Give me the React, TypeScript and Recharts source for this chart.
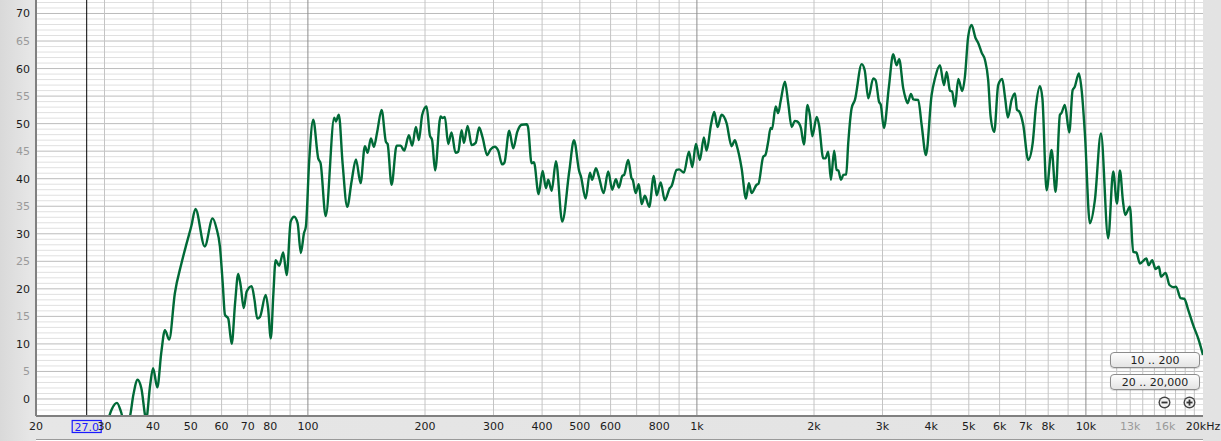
import React from 'react';
import { LineChart, Line, XAxis, YAxis, CartesianGrid, ReferenceLine } from 'recharts';

// Frequency (Hz) of each sample of the measured curve
const FREQS = [
  30.3, 31.3, 32.3, 33.1, 33.9, 34.9, 35.6, 36.5, 37.3, 38.4, 39.3, 40.0, 41.0, 42.0, 42.9, 44.0,
  45.5, 47.3, 48.8, 50.2, 51.4, 54.3, 56.9, 58.2, 59.4, 60.4, 61.2, 62.4, 63.7, 65.0, 66.2, 67.2,
  68.4, 69.6, 71.7, 72.9, 74.1, 75.3, 77.9, 79.0, 80.3, 81.5, 82.6, 84.4, 86.4, 88.2, 90.3, 92.2,
  94.1, 95.9, 97.7, 98.8, 100.8, 103.2, 106.3, 107.8, 111.1, 116.9, 118.0, 120.1, 122.8, 126.2,
  129.5, 132.9, 136.6, 140.1, 142.4, 145.2, 147.8, 150.7, 154.7, 158.7, 160.3, 164.1, 169.1, 173.1,
  176.8, 181.8, 185.4, 189.5, 192.9, 196.7, 201.9, 205.8, 208.6, 212.3, 219.3, 222.0, 225.0, 229.4,
  234.0, 239.6, 243.4, 248.4, 251.8, 257.4, 263.6, 269.9, 275.6, 281.2, 289.0, 294.8, 302.4, 308.4,
  315.8, 320.0, 329.2, 337.2, 345.3, 354.4, 365.0, 368.0, 375.9, 381.1, 391.8, 401.3, 409.2, 414.8,
  423.3, 434.2, 450.6, 469.7, 483.0, 498.4, 503.0, 517.7, 530.9, 538.0, 550.0, 560.0, 575.8, 591.6,
  605.8, 619.0, 630.0, 642.8, 650.0, 666.0, 679.0, 684.0, 696.0, 709.0, 721.0, 735.0, 754.0, 775.0,
  788.0, 807.0, 827.0, 852.0, 860.0, 887.0, 900.0, 926.0, 954.0, 973.0, 994.0, 1018, 1042, 1059,
  1087, 1108, 1130, 1157, 1192, 1228, 1252, 1265, 1303, 1337, 1360, 1382, 1424, 1440, 1481, 1500,
  1525, 1547, 1560, 1594, 1618, 1641, 1684, 1717, 1752, 1786, 1810, 1851, 1884, 1925, 1952, 1980,
  2032, 2060, 2113, 2140, 2176, 2210, 2254, 2286, 2310, 2346, 2380, 2420, 2449, 2499, 2548, 2652,
  2700, 2758, 2840, 2880, 2938, 2970, 3025, 3116, 3196, 3261, 3311, 3392, 3440, 3481, 3550, 3600,
  3706, 3782, 3879, 4012, 4092, 4215, 4316, 4386, 4472, 4530, 4606, 4698, 4809, 4886, 4982, 5083,
  5206, 5290, 5394, 5500, 5608, 5689, 5812, 5950, 6093, 6200, 6302, 6442, 6570, 6650, 6740, 6900,
  7108, 7296, 7439, 7617, 7730, 7924, 8163, 8359, 8575, 8650, 8831, 9062, 9245, 9350, 9594, 9760,
  9940, 10240, 10546, 10930, 11411, 11756, 12016, 12231, 12450, 12616, 12975, 13231, 13480, 13768,
  14300, 14500, 14806, 15100, 15404, 15600, 16030, 16400, 16842, 17050, 17518, 17900, 18323, 18871,
  19440, 20000,
];

// Level (dB) at each frequency above
const LEVELS = [
  -5.0, -1.9, -0.7, -2.4, -5.0, -3.1, 0.8, 3.5, 2.0, -3.6, 2.5, 5.6, 2.1, 8.5, 12.5, 10.8,
  19.2, 24.6, 28.3, 31.5, 34.5, 27.7, 32.8, 31.0, 27.7, 21.0, 15.3, 14.6, 10.0, 17.5, 22.7, 20.5,
  16.5, 19.5, 20.5, 18.0, 14.6, 14.9, 18.9, 16.5, 11.0, 19.0, 25.2, 24.2, 26.6, 22.5, 32.2, 33.1,
  31.9, 26.5, 30.1, 31.3, 43.4, 50.7, 43.7, 42.8, 33.2, 51.1, 50.4, 51.6, 42.8, 34.9,
  39.5, 43.5, 39.2, 45.9, 44.7, 47.3, 45.8, 48.5, 52.5, 46.7, 46.3, 38.9, 46.0, 46.0,
  45.1, 47.9, 46.0, 49.4, 47.0, 51.6, 53.1, 47.9, 47.0, 41.5, 51.3, 51.0, 51.2, 46.3,
  48.4, 44.7, 44.9, 48.8, 46.5, 49.6, 46.1, 46.5, 49.3, 47.5, 44.3, 45.3, 45.8, 45.1,
  42.6, 42.9, 48.7, 45.5, 48.5, 49.8, 49.9, 49.4, 42.8, 43.0, 37.2, 41.4, 38.3, 39.8,
  37.8, 43.2, 32.2, 41.3, 47.0, 41.3, 40.5, 36.4, 41.1, 39.8, 41.9, 40.3, 37.4, 41.3,
  38.0, 39.9, 38.4, 40.5, 40.7, 43.4, 40.1, 39.8, 37.4, 39.0, 35.4, 36.9, 34.9, 40.5,
  37.0, 39.3, 36.1, 38.3, 38.6, 41.6, 41.7, 41.1, 44.9, 42.1, 46.3, 43.4, 47.5, 45.1,
  49.8, 52.1, 49.4, 51.6, 50.1, 45.9, 47.0, 46.1, 41.9, 36.4, 39.2, 37.4, 38.9, 39.1, 44.0, 44.3,
  46.7, 49.2, 49.0, 53.1, 51.9, 54.0, 57.6, 53.7, 49.4, 50.5, 50.4, 49.2, 46.2, 53.4, 51.5, 47.7,
  51.2, 49.8, 43.7, 43.7, 44.9, 39.8, 45.1, 41.6, 41.5, 39.8, 40.7, 40.8, 46.4, 52.8, 54.3, 60.8,
  59.7, 54.6, 58.2, 57.9, 54.0, 53.4, 49.2, 56.7, 62.6, 60.6, 61.7, 56.4, 54.6, 53.7, 55.4, 54.4,
  54.3, 49.8, 44.3, 55.2, 58.2, 60.6, 57.0, 59.4, 56.0, 55.8, 53.1, 58.1, 55.9, 58.5, 65.8, 67.9,
  65.5, 64.6, 62.9, 61.6, 57.9, 51.3, 48.5, 57.0, 58.1, 54.6, 51.1, 54.3, 55.5, 52.5, 52.2, 49.8,
  43.4, 46.4, 53.1, 56.8, 54.6, 37.9, 45.2, 37.6, 51.6, 51.9, 53.4, 48.4, 56.1, 56.6, 59.1, 55.8,
  48.2, 31.9, 36.1, 48.2, 29.2, 41.3, 35.5, 41.5, 36.0, 33.4, 34.9, 26.7, 26.6, 24.6,
  25.5, 24.3, 25.2, 23.6, 24.0, 22.2, 22.9, 20.7, 20.3, 20.4, 18.3, 18.2, 16.2, 13.4,
  11.0, 8.0,
];

const X_TICKS = [20, 30, 40, 50, 60, 70, 80, 100, 200, 300, 400, 500, 600, 800, 1000, 2000, 3000, 4000, 5000, 6000, 7000, 8000, 10000, 13000, 16000, 20000];
const X_LABELS = ['20', '30', '40', '50', '60', '70', '80', '100', '200', '300', '400', '500', '600', '800', '1k', '2k', '3k', '4k', '5k', '6k', '7k', '8k', '10k', '13k', '16k', '20kHz'];
const X_GREY_LABELS = ['13k', '16k'];
const Y_TICKS = [0, 5, 10, 15, 20, 25, 30, 35, 40, 45, 50, 55, 60, 65, 70];
const Y_DOMAIN = [-3.09, 72.45];
const X_DOMAIN = [20, 20000];

const DB_FINE = [-3, -2, -1, 1, 2, 3, 4, 6, 7, 8, 9, 11, 12, 13, 14, 16, 17, 18, 19, 21, 22, 23, 24, 26, 27, 28, 29, 31, 32, 33, 34, 36, 37, 38, 39, 41, 42, 43, 44, 46, 47, 48, 49, 51, 52, 53, 54, 56, 57, 58, 59, 61, 62, 63, 64, 66, 67, 68, 69, 71, 72];
const DB_COARSE = [0, 5, 10, 15, 20, 25, 30, 35, 40, 45, 50, 55, 60, 65, 70];
const HZ_FINE = [30, 40, 50, 60, 70, 80, 90, 200, 300, 400, 500, 600, 700, 800, 900, 2000, 3000, 4000, 5000, 6000, 7000, 8000, 9000, 11000, 12000, 13000, 14000, 15000, 16000, 17000, 18000, 19000];
const HZ_DECADE = [100, 1000, 10000];
const CURSOR_HZ = 27.0;
const CURSOR_LABEL = '27.0';
const BUTTON_LABELS = ['10 .. 200', '20 .. 20,000'];

const data = FREQS.map((f, i) => ({ f, db: LEVELS[i] }));

const FONT = '"DejaVu Sans", "Lucida Grande", sans-serif';

const XTick = (props: any) => {
  const { x, y, payload } = props;
  const i = X_TICKS.indexOf(payload.value);
  const label = i >= 0 ? X_LABELS[i] : String(payload.value);
  const grey = X_GREY_LABELS.includes(label);
  return (
    <text x={x} y={y + 14} textAnchor="middle" fontFamily={FONT} fontSize={11} fill={grey ? '#9a9a9a' : '#1c1c1c'}>
      {label}
    </text>
  );
};

const YTick = (props: any) => {
  const { x, y, payload } = props;
  const grey = payload.value % 10 !== 0;
  return (
    <text x={x} y={y + 4} textAnchor="end" fontFamily={FONT} fontSize={11} fill={grey ? '#9a9a9a' : '#1c1c1c'}>
      {payload.value}
    </text>
  );
};

const CursorLabel = (props: any) => {
  const vb = props.viewBox || {};
  const cx = vb.x;
  const bottom = (vb.y || 0) + (vb.height || 0);
  return (
    <g>
      <rect x={cx - 14.5} y={bottom + 4.5} width={29} height={12} fill="#dedede" stroke="#1a1aff" strokeWidth={1.2} />
      <text x={cx} y={bottom + 14.5} textAnchor="middle" fontFamily={FONT} fontSize={11} fill="#1a1aff">
        {CURSOR_LABEL}
      </text>
    </g>
  );
};

const buttonStyle: React.CSSProperties = {
  position: 'absolute',
  left: 1110,
  width: 90,
  height: 16,
  borderRadius: 4,
  border: '1px solid #8c8c8c',
  background: 'linear-gradient(#fdfdfd, #e4e4e4)',
  fontFamily: FONT,
  fontSize: 11,
  color: '#222',
  textAlign: 'center',
  lineHeight: '16px',
  boxSizing: 'border-box',
  boxShadow: '0 1px 1px rgba(0,0,0,0.15)',
};

const RoundIcon = ({ left, plus }: { left: number; plus: boolean }) => (
  <svg style={{ position: 'absolute', left, top: 396 }} width={13} height={13}>
    <circle cx={6.5} cy={6.5} r={6} fill="#444" />
    <circle cx={6.5} cy={6.5} r={4.6} fill="#f2f2f2" />
    <rect x={3.5} y={5.6} width={6} height={1.8} fill="#333" />
    {plus && <rect x={5.6} y={3.5} width={1.8} height={6} fill="#333" />}
  </svg>
);

export default function App() {
  return (
    <div style={{ position: 'absolute', left: 0, top: 0, width: 1221, height: 441, background: 'linear-gradient(90deg, #d9d9d9 0px, #e6e6e6 30px, #e3e3e3 100%)', overflow: 'hidden' }}>
      <style>{'body{margin:0}'}</style>
      <LineChart width={1221} height={441} data={data} margin={{ top: 0, right: 18, bottom: 0, left: 0 }}>
        <CartesianGrid fill="#ffffff" stroke="#e0e0e0" strokeWidth={1} vertical={false} horizontalValues={DB_FINE} />
        <CartesianGrid stroke="#bcbcbc" strokeWidth={1} vertical={false} horizontalValues={DB_COARSE} />
        <CartesianGrid stroke="#c4c4c4" strokeWidth={1} horizontal={false} verticalValues={HZ_FINE} />
        <CartesianGrid stroke="#8c8c8c" strokeWidth={1} horizontal={false} verticalValues={HZ_DECADE} />
        <XAxis
          dataKey="f"
          type="number"
          scale="log"
          domain={X_DOMAIN}
          allowDataOverflow
          ticks={X_TICKS}
          interval={0}
          tick={<XTick />}
          tickLine={false}
          tickSize={0}
          tickMargin={0}
          axisLine={{ stroke: '#808080', strokeWidth: 2 }}
          height={25}
        />
        <YAxis
          type="number"
          domain={Y_DOMAIN}
          allowDataOverflow
          ticks={Y_TICKS}
          interval={0}
          tick={<YTick />}
          tickLine={false}
          tickSize={4}
          tickMargin={2}
          axisLine={{ stroke: '#808080', strokeWidth: 2 }}
          width={36}
        />
        <Line dataKey="db" type="monotone" stroke="#006a37" strokeWidth={2.4} dot={false} activeDot={false} isAnimationActive={false} />
        <ReferenceLine x={CURSOR_HZ} stroke="#000000" strokeWidth={1} label={<CursorLabel />} ifOverflow="visible" />
      </LineChart>
      <div style={{ ...buttonStyle, top: 352 }}>{BUTTON_LABELS[0]}</div>
      <div style={{ ...buttonStyle, top: 374 }}>{BUTTON_LABELS[1]}</div>
      <RoundIcon left={1158} plus={false} />
      <RoundIcon left={1183} plus={true} />
      <div style={{ position: 'absolute', left: 36, top: 439, width: 1167, height: 4, background: '#ffffff', borderTop: '1px solid #9a9a9a' }} />
    </div>
  );
}
